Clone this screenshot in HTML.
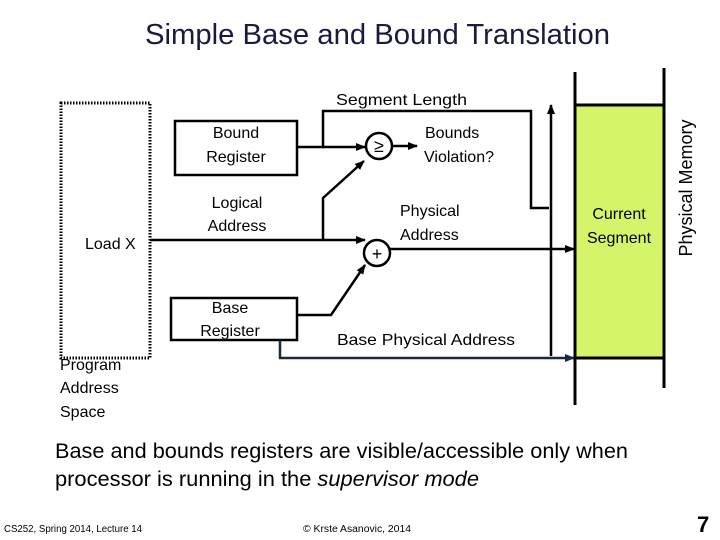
<!DOCTYPE html>
<html><head><meta charset="utf-8"><style>
html,body{margin:0;padding:0;background:#fff;}
svg{display:block;font-family:"Liberation Sans",sans-serif;}
</style></head><body>
<svg width="720" height="540" viewBox="0 0 720 540" xmlns="http://www.w3.org/2000/svg">
<defs>
<marker id="a" markerWidth="10" markerHeight="8" refX="9" refY="4" orient="auto" markerUnits="userSpaceOnUse"><path d="M0,0 L10,4 L0,8 z" fill="#000"/></marker>
<marker id="b" markerWidth="10" markerHeight="8" refX="9" refY="4" orient="auto" markerUnits="userSpaceOnUse"><path d="M0,0 L10,4 L0,8 z" fill="#1a2a3a"/></marker>
</defs>
<text x="145" y="44" font-size="29" fill="#1a1a40" textLength="465" lengthAdjust="spacingAndGlyphs">Simple Base and Bound Translation</text>
<rect x="61" y="103" width="89" height="255" fill="none" stroke="#000" stroke-width="3" stroke-dasharray="1.5,1.5"/>
<text x="85" y="249" font-size="16">Load X</text>
<text x="60" y="370" font-size="16">Program</text>
<text x="60" y="393" font-size="16">Address</text>
<text x="60" y="417" font-size="16">Space</text>
<rect x="175" y="121" width="122" height="54" fill="#fff" stroke="#000" stroke-width="2.5"/>
<text x="236" y="138" font-size="16" text-anchor="middle">Bound</text>
<text x="236" y="162" font-size="16" text-anchor="middle">Register</text>
<rect x="171" y="298" width="126" height="42" fill="#fff" stroke="#000" stroke-width="2.5"/>
<text x="230" y="313" font-size="16" text-anchor="middle">Base</text>
<text x="230" y="336" font-size="16" text-anchor="middle">Register</text>
<text x="237" y="208" font-size="16" text-anchor="middle">Logical</text>
<text x="237" y="231" font-size="16" text-anchor="middle">Address</text>
<g stroke="#000" stroke-width="2.5" fill="none">
<polyline points="297,147 323,147 323,111 531,111 531,208 549,208"/>
<line x1="323" y1="147" x2="365" y2="147" marker-end="url(#a)"/>
<circle cx="379" cy="146" r="13"/>
<line x1="392" y1="146" x2="417" y2="146" marker-end="url(#a)"/>
<line x1="150" y1="240" x2="365" y2="240" marker-end="url(#a)"/>
<polyline points="323,240 323,198 364,161" marker-end="url(#a)"/>
<circle cx="377" cy="253" r="13"/>
<polyline points="297,315 331,315 365,265" marker-end="url(#a)"/>
<line x1="390" y1="249" x2="574" y2="249" marker-end="url(#a)"/>
<line x1="551" y1="356" x2="551" y2="105" marker-end="url(#a)"/>
</g>
<polyline points="280,340 280,358 574,358" stroke="#1a2a3a" stroke-width="2.5" fill="none" marker-end="url(#b)"/>
<text x="379" y="152" font-size="18" text-anchor="middle">≥</text>
<text x="377" y="260" font-size="18" text-anchor="middle">+</text>
<text x="336" y="105" font-size="16" textLength="131" lengthAdjust="spacingAndGlyphs">Segment Length</text>
<text x="425" y="138" font-size="16">Bounds</text>
<text x="424" y="162" font-size="16">Violation?</text>
<text x="400" y="216" font-size="16">Physical</text>
<text x="400" y="240" font-size="16">Address</text>
<text x="337" y="345" font-size="16" textLength="178" lengthAdjust="spacingAndGlyphs">Base Physical Address</text>
<rect x="575" y="106" width="89" height="252" fill="#d4f56a"/>
<g stroke="#000" stroke-width="3">
<line x1="575" y1="72" x2="575" y2="405"/>
<line x1="664" y1="68" x2="664" y2="388"/>
<line x1="575" y1="105" x2="664" y2="105"/>
<line x1="575" y1="358" x2="664" y2="358"/>
</g>
<text x="619" y="219" font-size="16" text-anchor="middle">Current</text>
<text x="619" y="243" font-size="16" text-anchor="middle">Segment</text>
<text transform="translate(692,188) rotate(-90)" font-size="18" text-anchor="middle">Physical Memory</text>
<text x="55" y="458" font-size="21" textLength="573" lengthAdjust="spacingAndGlyphs">Base and bounds registers are visible/accessible only when</text>
<text x="55" y="486" font-size="21" textLength="424" lengthAdjust="spacingAndGlyphs">processor is running in the <tspan font-style="italic">supervisor mode</tspan></text>
<text x="4" y="532" font-size="10" textLength="138" lengthAdjust="spacingAndGlyphs">CS252, Spring 2014, Lecture 14</text>
<text x="303" y="532" font-size="10" textLength="108" lengthAdjust="spacingAndGlyphs">© Krste Asanovic, 2014</text>
<text x="697" y="532" font-size="22" font-weight="bold">7</text>
</svg>
</body></html>
